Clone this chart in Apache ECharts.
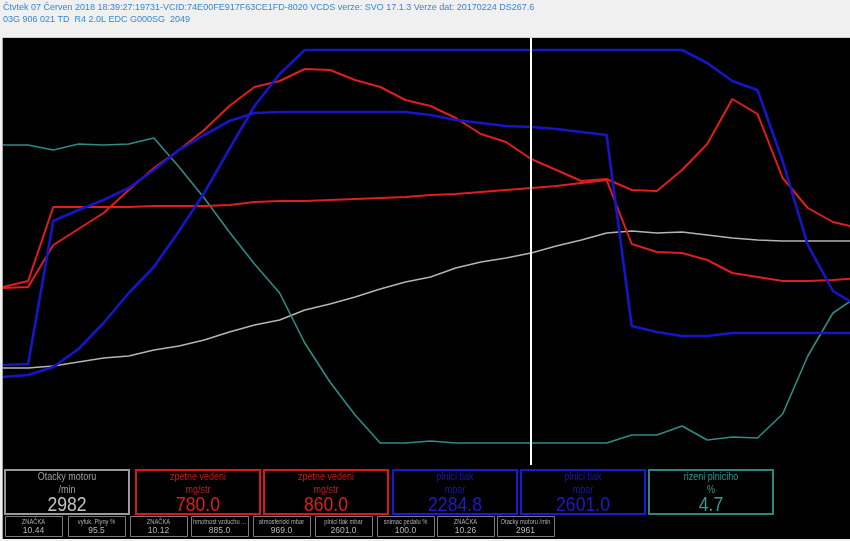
<!DOCTYPE html>
<html><head><meta charset="utf-8">
<script src="https://cdn.jsdelivr.net/npm/echarts@6/dist/echarts.min.js"></script>
<style>html,body{margin:0;padding:0;background:#f0f0f0}#c{width:850px;height:541px}</style>
</head><body><div id="c"></div><script>
// header
const headerLines = [
  "Čtvtek 07 Červen 2018 18:39:27:19731-VCID:74E00FE917F63CE1FD-8020 VCDS verze: SVO 17.1.3 Verze dat: 20170224 DS267.6",
  "03G 906 021 TD  R4 2.0L EDC G000SG  2049"
];
// trace values (height in plot units, 0..427), one per sample
const otackyMotoru = [97,97,99,103,107,109,115,119,125,133,140,145,155,161,168,176,183,188,197,203,207,212,219,225,232,234,232,233,230,227,225,224,224,224,224];
const rizeniPlniciho = [320,320,315,321,320,321,327,298,267,233,201,172,122,83,50,22,22,24,22,22,22,22,22,22,22,30,30,39,25,28,27,51,109,152,169];
const zpetneVedeniA = [178,184,258,258,258,258,259,259,259,260,263,264,264,265,266,267,268,270,271,273,275,277,279,282,285,221,213,212,205,192,188,184,184,185,187];
const zpetneVedeniB = [177,178,220,236,252,275,297,315,335,359,378,384,396,395,385,378,365,359,347,331,323,306,295,284,286,275,274,295,321,366,351,287,257,243,237];
const plniciTlakA = [100,101,244,255,265,277,295,315,330,344,352,353,353,353,353,353,353,350,345,342,339,338,336,333,330,139,133,129,129,132,132,132,132,132,132];
const plniciTlakB = [88,90,98,116,142,172,198,234,272,316,359,391,415,415,415,415,415,415,415,415,415,415,415,415,415,415,415,415,402,384,375,304,220,174,159];
const cursorSample = 21;
// big boxes
const bigTitles = ["Otacky motoru","zpetne vedeni","zpetne vedeni","plnici tlak","plnici tlak","rizeni plniciho"];
const bigUnits = ["/min","mg/str","mg/str","mbar","mbar","%"];
const bigValues = ["2982","780.0","860.0","2284.8","2601.0","4.7"];
// small boxes
const smallTitles = ["ZNAČKA","vyfuk. Plyny %","ZNAČKA","hmotnost vzduchu ...","atmosfericki mbar","plnici tlak mbar","snimac pedalu %","ZNAČKA","Otacky motoru /min"];
const smallValues = ["10.44","95.5","10.12","885.0","969.0","2601.0","100.0","10.26","2961"];

const bigStyles = [
  {border:'#9a9a9a', title:'#a0a0a0', value:'#c4c4c4'},
  {border:'#d41a1a', title:'#c81818', value:'#e01c1c'},
  {border:'#d41a1a', title:'#c81818', value:'#e01c1c'},
  {border:'#1a1ad0', title:'#1818a8', value:'#1c1cc8'},
  {border:'#1a1ad0', title:'#1818a8', value:'#1c1cc8'},
  {border:'#2a8a82', title:'#2a9a90', value:'#2e9c92'}
];
const bigX = [4,135,263,392,520,648];
const bigW = 126;
const smallX = [5,68,130,191,253,315,377,437,497];
const smallW = 57;

function pairs(arr){ return arr.map((v,i)=>[i,v]); }

const F = '"Liberation Sans", Arial, sans-serif';
const graphic = [];
graphic.push({type:'rect', shape:{x:3,y:38,width:847,height:501}, style:{fill:'#000'}, z:-10});
graphic.push({type:'line', shape:{x1:2.5,y1:37,x2:2.5,y2:539}, style:{stroke:'#a8a8a8',lineWidth:1}, z:-9});
graphic.push({type:'line', shape:{x1:2,y1:37.5,x2:850,y2:37.5}, style:{stroke:'#d0d0d0',lineWidth:1}, z:-9});
headerLines.forEach((t,i)=>{
  graphic.push({type:'text', x:3, y:3+i*12.5, style:{text:t, fill:'#3a86d0', font:'9px '+F}});
});
bigTitles.forEach((t,i)=>{
  const s = bigStyles[i], x = bigX[i], cx = x+bigW/2;
  graphic.push({type:'rect', shape:{x:x+1,y:470,width:bigW-2,height:44}, style:{fill:'none',stroke:s.border,lineWidth:2}});
  graphic.push({type:'text', x:cx, y:477, scaleX:0.9, style:{text:t, fill:s.title, font:'10px '+F, align:'center', verticalAlign:'middle'}});
  graphic.push({type:'text', x:cx, y:490, scaleX:0.9, style:{text:bigUnits[i], fill:s.title, font:'10px '+F, align:'center', verticalAlign:'middle'}});
  graphic.push({type:'text', x:cx, y:505, scaleX:0.88, style:{text:bigValues[i], fill:s.value, font:'20px '+F, align:'center', verticalAlign:'middle'}});
});
smallTitles.forEach((t,i)=>{
  const x = smallX[i];
  graphic.push({type:'rect', shape:{x:x+0.5,y:516.5,width:smallW,height:20}, style:{fill:'none',stroke:'#7a7a7a',lineWidth:1}});
  graphic.push({type:'text', x:x+smallW/2, y:522, scaleX:0.82, style:{text:t, fill:'#b0b0b0', font:'7px '+F, align:'center', verticalAlign:'middle'}});
  graphic.push({type:'text', x:x+smallW/2, y:530.5, style:{text:smallValues[i], fill:'#b8b8b8', font:'8.5px '+F, align:'center', verticalAlign:'middle'}});
});

function mk(name, data, color, width){
  return {name, type:'line', data:pairs(data), showSymbol:false, symbol:'none', lineStyle:{color, width}, itemStyle:{color}, silent:true, clip:true};
}
const series = [
  mk('Otacky motoru', otackyMotoru, '#b4b4b4', 1.5),
  mk('rizeni plniciho', rizeniPlniciho, '#2e8c85', 1.6),
  mk('zpetne vedeni 780', zpetneVedeniA, '#e01e1e', 2),
  mk('zpetne vedeni 860', zpetneVedeniB, '#e01e1e', 2),
  mk('plnici tlak 2284.8', plniciTlakA, '#1616c8', 2.6),
  mk('plnici tlak 2601', plniciTlakB, '#1616c8', 2.6)
];
series[0].markLine = {silent:true, symbol:['none','none'], label:{show:false}, lineStyle:{color:'#ffffff', width:2, type:'solid'}, data:[{xAxis:cursorSample}]};

const chart = echarts.init(document.getElementById('c'), null, {renderer:'canvas'});
chart.setOption({
  animation:false,
  backgroundColor:'#f0f0f0',
  grid:{left:3, right:0, top:38, bottom:76},
  xAxis:{type:'value', min:0, max:847/25.15, show:false},
  yAxis:{type:'value', min:0, max:427, show:false},
  graphic,
  series
});
</script></body></html>
